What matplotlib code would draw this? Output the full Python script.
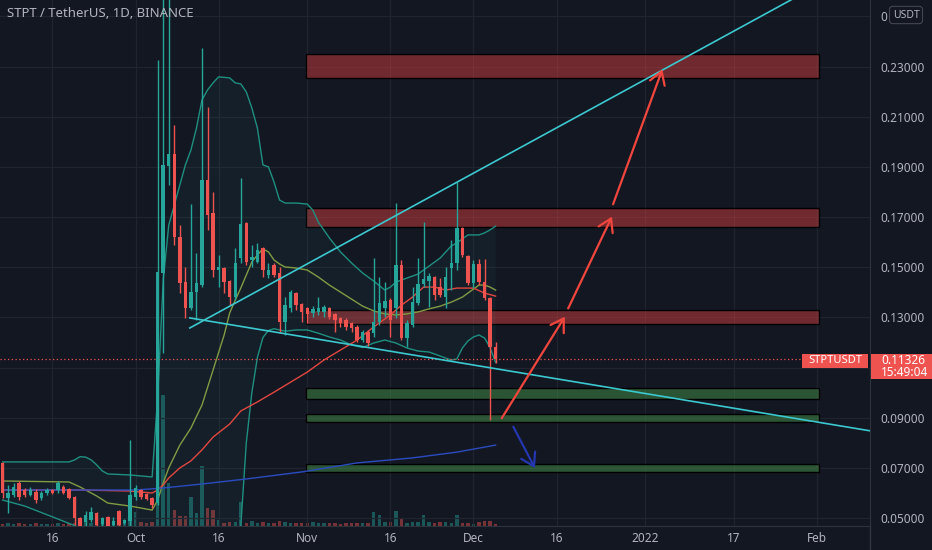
import numpy as np
import matplotlib.pyplot as plt
from matplotlib.patches import Rectangle
from matplotlib.lines import Line2D

plt.rcParams['font.family'] = ['Noto Sans', 'DejaVu Sans']

# daily candles, x = days counted from 2021-10-01 (first candle is 2021-09-07)
first_day = -24
opens = [0.0720, 0.0580, 0.0592, 0.0640, 0.0612, 0.0592, 0.0604, 0.0580, 0.0600, 0.0612,
         0.0612, 0.0624, 0.0616, 0.0584, 0.0500, 0.0484, 0.0492, 0.0520, 0.0476, 0.0504,
         0.0472, 0.0528, 0.0480, 0.0490, 0.0584, 0.0612, 0.0596, 0.0580, 0.0560, 0.1477,
         0.1904, 0.1952, 0.1621, 0.1441, 0.1338, 0.1401, 0.1429, 0.1848, 0.1716, 0.1489,
         0.1497, 0.1445, 0.1381, 0.1537, 0.1676, 0.1529, 0.1521, 0.1577, 0.1469, 0.1509,
         0.1477, 0.1282, 0.1338, 0.1397, 0.1353, 0.1338, 0.1318, 0.1322, 0.1322, 0.1338,
         0.1314, 0.1298, 0.1290, 0.1278, 0.1262, 0.1210, 0.1242, 0.1238, 0.1282, 0.1338,
         0.1369, 0.1338, 0.1509, 0.1218, 0.1270, 0.1357, 0.1433, 0.1445, 0.1461, 0.1421,
         0.1381, 0.1497, 0.1517, 0.1656, 0.1545, 0.1437, 0.1513, 0.1441, 0.1377, 0.1182]
highs = [0.0724, 0.0632, 0.0640, 0.0648, 0.0620, 0.0624, 0.0616, 0.0608, 0.0620, 0.0616,
         0.0648, 0.0632, 0.0620, 0.0588, 0.0504, 0.0528, 0.0544, 0.0524, 0.0504, 0.0508,
         0.0504, 0.0532, 0.0496, 0.0811, 0.0632, 0.0616, 0.0600, 0.0584, 0.2326, 0.2700,
         0.2650, 0.2067, 0.1668, 0.1501, 0.1752, 0.1557, 0.2374, 0.2139, 0.1800, 0.1549,
         0.1501, 0.1449, 0.1577, 0.1856, 0.1680, 0.1589, 0.1597, 0.1581, 0.1517, 0.1517,
         0.1501, 0.1381, 0.1409, 0.1401, 0.1357, 0.1341, 0.1345, 0.1381, 0.1349, 0.1341,
         0.1318, 0.1302, 0.1298, 0.1282, 0.1270, 0.1250, 0.1250, 0.1537, 0.1461, 0.1441,
         0.1377, 0.1756, 0.1529, 0.1290, 0.1421, 0.1537, 0.1680, 0.1477, 0.1465, 0.1457,
         0.1501, 0.1609, 0.1840, 0.1660, 0.1549, 0.1529, 0.1533, 0.1533, 0.1381, 0.1202]
lows = [0.0580, 0.0520, 0.0584, 0.0572, 0.0584, 0.0588, 0.0560, 0.0572, 0.0592, 0.0596,
        0.0600, 0.0596, 0.0576, 0.0472, 0.0468, 0.0468, 0.0484, 0.0468, 0.0468, 0.0468,
        0.0468, 0.0468, 0.0476, 0.0470, 0.0572, 0.0576, 0.0572, 0.0540, 0.0552, 0.1158,
        0.1828, 0.1589, 0.1397, 0.1298, 0.1330, 0.1290, 0.1421, 0.1649, 0.1461, 0.1421,
        0.1397, 0.1349, 0.1369, 0.1517, 0.1509, 0.1501, 0.1517, 0.1461, 0.1457, 0.1461,
        0.1238, 0.1230, 0.1322, 0.1330, 0.1282, 0.1278, 0.1302, 0.1310, 0.1302, 0.1294,
        0.1242, 0.1262, 0.1250, 0.1242, 0.1202, 0.1202, 0.1186, 0.1222, 0.1270, 0.1302,
        0.1222, 0.1298, 0.1210, 0.1182, 0.1262, 0.1349, 0.1421, 0.1341, 0.1369, 0.1381,
        0.1338, 0.1409, 0.1489, 0.1541, 0.1429, 0.1417, 0.1429, 0.1369, 0.0891, 0.1118]
closes = [0.0600, 0.0600, 0.0624, 0.0584, 0.0592, 0.0612, 0.0572, 0.0600, 0.0612, 0.0600,
          0.0640, 0.0600, 0.0580, 0.0500, 0.0470, 0.0512, 0.0524, 0.0472, 0.0500, 0.0470,
          0.0488, 0.0472, 0.0492, 0.0592, 0.0620, 0.0584, 0.0576, 0.0552, 0.1481, 0.1908,
          0.1952, 0.1621, 0.1437, 0.1338, 0.1401, 0.1437, 0.1848, 0.1708, 0.1489, 0.1501,
          0.1441, 0.1381, 0.1517, 0.1672, 0.1521, 0.1541, 0.1569, 0.1489, 0.1489, 0.1469,
          0.1282, 0.1349, 0.1401, 0.1349, 0.1322, 0.1314, 0.1334, 0.1338, 0.1341, 0.1302,
          0.1290, 0.1278, 0.1262, 0.1258, 0.1210, 0.1242, 0.1198, 0.1282, 0.1357, 0.1365,
          0.1290, 0.1509, 0.1218, 0.1278, 0.1361, 0.1433, 0.1453, 0.1465, 0.1389, 0.1389,
          0.1461, 0.1517, 0.1656, 0.1549, 0.1437, 0.1513, 0.1441, 0.1377, 0.1182, 0.11326]
volumes = [2, 3, 2, 3, 2, 2, 3, 2, 2, 2, 3, 2, 3,
           3, 3, 4, 3, 3, 2, 3, 2, 4, 3,
           31, 14, 4, 3, 4,
           120, 131, 43, 16, 10, 10, 29, 13, 60, 18, 16, 6, 3, 4, 4, 24,
           3, 5, 3, 4, 3, 3, 5, 4, 3, 3, 3, 3, 4, 3, 3, 3, 3, 2, 3, 3, 3, 3, 3,
           14, 11, 4, 4, 15, 7, 3, 4, 4, 11, 4, 3, 4, 4, 3, 11, 3, 3, 2, 4, 5, 5, 2]

# indicator lines (day, value)
bb_upper_days = [-24, -12, -11, -10, -9, -8, -7, -6, -5, -1, 3, 4, 5, 6, 7, 8, 9, 10, 11, 12, 13, 14,
                 15, 17, 18, 19, 20, 21, 22, 23, 24, 25, 26, 27, 29, 31, 32, 33, 35, 37, 39, 41, 43,
                 45, 46, 47, 49, 51, 53, 55, 56, 57, 58, 60, 62, 63, 64, 65]
bb_upper = [0.0724, 0.0724, 0.0732, 0.0745, 0.0743, 0.0732, 0.0712, 0.0688, 0.0676, 0.0672, 0.0664,
            0.0983, 0.1449, 0.1668, 0.1748, 0.1828, 0.1908, 0.1967, 0.2055, 0.2167, 0.2207, 0.2235,
            0.2259, 0.2255, 0.2235, 0.2231, 0.2199, 0.2135, 0.2055, 0.1908, 0.1900, 0.1840, 0.1768,
            0.1756, 0.1756, 0.1752, 0.1728, 0.1680, 0.1617, 0.1561, 0.1517, 0.1477, 0.1445, 0.1409,
            0.1421, 0.1441, 0.1457, 0.1473, 0.1505, 0.1537, 0.1561, 0.1585, 0.1597, 0.1629, 0.1629,
            0.1637, 0.1649, 0.1664]
bb_lower_days = [-24, -20, -15, -11, -8, -3, 0, 3, 4, 5, 10, 15, 18, 19, 20, 21, 22, 23, 24, 25, 27,
                 29, 31, 33, 35, 37, 39, 41, 43, 45, 47, 49, 51, 53, 55, 57, 58, 59, 60, 61, 62, 63, 64, 65]
bb_lower = [0.0572, 0.0548, 0.0505, 0.0470, 0.0440, 0.0420, 0.0420, 0.0420, 0.0100, -0.0300, -0.0450,
            -0.0300, 0.0100, 0.0468, 0.0800, 0.1000, 0.1140, 0.1220, 0.1248, 0.1255, 0.1245, 0.1250,
            0.1250, 0.1237, 0.1222, 0.1210, 0.1190, 0.1180, 0.1198, 0.1210, 0.1198, 0.1178, 0.1166,
            0.1162, 0.1146, 0.1130, 0.1134, 0.1178, 0.1206, 0.1222, 0.1230, 0.1218, 0.1180, 0.1120]
bb_basis_days = [-24, -12, -10, -7, -5, -1, 3, 4, 5, 6, 8, 10, 12, 14, 16, 17, 18, 19, 20, 21, 22, 23,
                 24, 25, 26, 27, 29, 31, 33, 35, 37, 39, 41, 43, 45, 47, 49, 51, 53, 55, 57, 59, 61,
                 62, 63, 64, 65]
bb_basis = [0.0648, 0.0644, 0.0624, 0.0588, 0.0560, 0.0548, 0.0532, 0.0572, 0.0640, 0.0700, 0.0791,
            0.0859, 0.0951, 0.1090, 0.1230, 0.1318, 0.1369, 0.1417, 0.1469, 0.1521, 0.1549, 0.1573,
            0.1561, 0.1529, 0.1513, 0.1501, 0.1497, 0.1489, 0.1461, 0.1429, 0.1401, 0.1373, 0.1345,
            0.1326, 0.1314, 0.1310, 0.1314, 0.1322, 0.1334, 0.1345, 0.1361, 0.1381, 0.1413, 0.1429,
            0.1429, 0.1421, 0.1409]
ma_red_days = [-24, -10, -1, 3, 4, 5, 6, 8, 10, 12, 14, 17, 19, 22, 25, 28, 31, 34, 37, 40, 43, 46,
               48, 50, 52, 54, 56, 58, 61, 63, 65]
ma_red = [0.0612, 0.0612, 0.0608, 0.0600, 0.0612, 0.0632, 0.0660, 0.0700, 0.0728, 0.0772, 0.0823,
          0.0875, 0.0927, 0.0963, 0.1002, 0.1042, 0.1082, 0.1130, 0.1170, 0.1210, 0.1262, 0.1310,
          0.1349, 0.1381, 0.1421, 0.1421, 0.1409, 0.1417, 0.1417, 0.1397, 0.1385]
ma_blue_days = [-24, 0, 5, 12, 20, 30, 40, 50, 58, 65]
ma_blue = [0.0612, 0.0612, 0.0620, 0.0636, 0.0656, 0.0684, 0.0720, 0.0740, 0.0763, 0.0791]

# drawings
zone_start, zone_end = 30.8, 123.3
resistance_zones = [(0.2255, 0.2349), (0.1661, 0.1736), (0.1272, 0.1328)]
support_zones = [(0.0974, 0.1020), (0.0883, 0.0915), (0.0685, 0.0717)]
rising_line = [(9.8, 0.1258), (60.0, 0.1863)]
falling_line = [(9.8, 0.1298), (60.0, 0.1114)]
red_arrows = [((66.1, 0.0898), (77.5, 0.1303)),
              ((78.1, 0.1336), (86.0, 0.1702)),
              ((86.2, 0.1751), (95.1, 0.2289))]
blue_arrow = ((68.2, 0.0864), (72.1, 0.0699))

date_ticks = [-15, 0, 15, 31, 46, 61, 76, 92, 108, 123]
date_labels = ['16', 'Oct', '16', 'Nov', '16', 'Dec', '16', '2022', '17', 'Feb']
price_ticks = [0.05, 0.07, 0.09, 0.11, 0.13, 0.15, 0.17, 0.19, 0.21, 0.23, 0.25]
# labels hidden behind the price box / the currency badge, as on the screen
price_labels = ['0.05000', '0.07000', '0.09000', '', '0.13000', '0.15000', '0.17000',
                '0.19000', '0.21000', '0.23000', '0']
last_price = 0.11326
countdown = '15:49:04'
symbol = 'STPTUSDT'

BG = '#131722'
UP = '#26a69a'
DOWN = '#ef5350'
TXT = '#b2b5be'
GRID = '#20242f'
SPINE = '#2f333e'

W, H = 932, 550
fig = plt.figure(figsize=(W / 100, H / 100), dpi=100, facecolor=BG)
rect = [0, 24 / H, 870 / W, 526 / H]
vax = fig.add_axes(rect, zorder=1)
ax = fig.add_axes(rect, zorder=2, sharex=vax)
ax.patch.set_visible(False)
vax.set_facecolor(BG)

x0, x1 = -24.46, 132.58
ax.set_xlim(x0, x1)
ax.set_ylim(0.04685, 0.25655)

days = np.arange(first_day, first_day + len(closes))
o, h, l, c = map(np.array, (opens, highs, lows, closes))
cols = np.where(c >= o, UP, DOWN)

# volume overlay
vax.bar(days, volumes, width=0.62, color=cols, alpha=0.45, linewidth=0)
vax.set_ylim(0, 526)
vax.set_yticks([])
vax.tick_params(axis='x', bottom=False, labelbottom=False)
for s in vax.spines.values():
    s.set_visible(False)

# zones
for lo, hi in resistance_zones:
    ax.bar(zone_start, hi - lo, width=zone_end - zone_start, bottom=lo, align='edge',
           color=(0.88, 0.25, 0.25, 0.45), edgecolor='black', linewidth=1, zorder=1)
for lo, hi in support_zones:
    ax.bar(zone_start, hi - lo, width=zone_end - zone_start, bottom=lo, align='edge',
           color=(0.30, 0.69, 0.31, 0.40), edgecolor='black', linewidth=1, zorder=1)

# bollinger bands + moving averages
ax.fill(np.r_[bb_upper_days, bb_lower_days[::-1]], np.r_[bb_upper, bb_lower[::-1]],
        color=UP, alpha=0.06, lw=0, zorder=1.5)
ax.plot(bb_upper_days, bb_upper, color='#1f8f80', lw=1, zorder=2)
ax.plot(bb_lower_days, bb_lower, color='#1f8f80', lw=1, zorder=2)
ax.plot(bb_basis_days, bb_basis, color='#819b43', lw=1, zorder=2)
ax.plot(ma_red_days, ma_red, color='#e2473f', lw=1, zorder=2)
ax.plot(ma_blue_days, ma_blue, color='#2a4cc0', lw=1, zorder=2)

# current price dotted line
ax.axhline(last_price, color=DOWN, lw=0.9, ls=(0, (1, 2)), zorder=2.5)

# candles
ax.vlines(days, l, h, colors=cols, lw=1, zorder=3)
ax.bar(days, np.maximum(np.abs(c - o), 0.0004), bottom=np.minimum(o, c), width=0.62,
       color=cols, linewidth=0, zorder=3.5)

# trend lines, extended to the right
for (d0, p0), (d1, p1) in (rising_line, falling_line):
    slope = (p1 - p0) / (d1 - d0)
    ax.plot([d0, x1], [p0, p0 + slope * (x1 - d0)], color='#3cc8cf', lw=1.2, zorder=4)

# arrows
for tail, tip in red_arrows:
    ax.annotate('', xy=tip, xytext=tail, zorder=5,
                arrowprops=dict(arrowstyle='->,head_length=0.45,head_width=0.28', color='#f0463d',
                                lw=1.6, shrinkA=0, shrinkB=0, mutation_scale=20))
ax.annotate('', xy=blue_arrow[1], xytext=blue_arrow[0], zorder=5,
            arrowprops=dict(arrowstyle='->,head_length=0.45,head_width=0.28', color='#2437b0',
                            lw=1.6, shrinkA=0, shrinkB=0, mutation_scale=20))

# axes styling
ax.yaxis.tick_right()
ax.set_yticks(price_ticks)
ax.set_yticklabels(price_labels)
ax.set_xticks(date_ticks)
ax.set_xticklabels(date_labels)
ax.tick_params(axis='y', length=0, pad=7.5, labelsize=8.5, labelcolor=TXT)
ax.tick_params(axis='x', length=0, pad=4.5, labelsize=8.5, labelcolor=TXT)
ax.grid(color=GRID, lw=0.9)
ax.set_axisbelow(True)
for side in ('top', 'left'):
    ax.spines[side].set_visible(False)
for side in ('right', 'bottom'):
    ax.spines[side].set_color(SPINE)
fig.add_artist(Line2D([870 / W, 870 / W], [0, 24 / H], color=SPINE, lw=1))

# title and labels
fig.text(7 / W, 1 - 13.5 / H, 'STPT / TetherUS, 1D, BINANCE', ha='left', va='center',
         fontsize=9.5, fontweight='bold', color=TXT)
fig.text(906 / W, 1 - 15 / H, 'USDT', ha='center', va='center', fontsize=7.5, color=TXT,
         zorder=20, bbox=dict(boxstyle='round,pad=0.3', fc=BG, ec='#434651', lw=0.8))

yp = ax.transData.transform((0, last_price))[1]
fig.add_artist(Rectangle((802 / W, (yp - 8.2) / H), 66 / W, 14 / H, transform=fig.transFigure,
                         fc=DOWN, ec='none', zorder=20))
fig.text(835 / W, (yp - 1.2) / H, symbol, ha='center', va='center', fontsize=8,
         fontweight='bold', color='white', zorder=21)
fig.add_artist(Rectangle((870.5 / W, (yp - 19.4) / H), 62 / W, 25.2 / H, transform=fig.transFigure,
                         fc=DOWN, ec='none', zorder=20))
fig.text(881 / W, (yp - 0.6) / H, f'{last_price:.5f}', ha='left', va='center', fontsize=8.5,
         fontweight='bold', color='white', zorder=21)
fig.text(881 / W, (yp - 12.8) / H, countdown, ha='left', va='center', fontsize=8.5,
         fontweight='bold', color='white', zorder=21)

fig.savefig('out.png', dpi=100, facecolor=BG)
